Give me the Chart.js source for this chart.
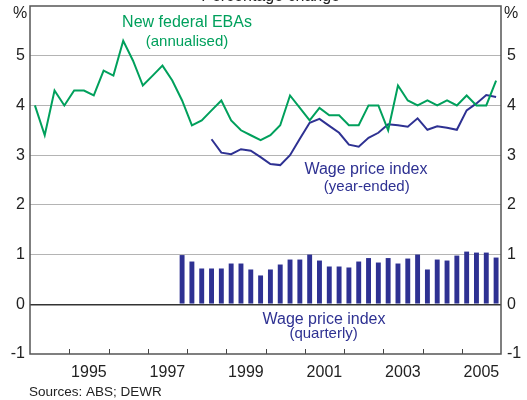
<!DOCTYPE html>
<html>
<head>
<meta charset="utf-8">
<script src="https://cdn.jsdelivr.net/npm/chart.js@4/dist/chart.umd.min.js"></script>
<style>
  html, body { margin: 0; padding: 0; background: #fff; }
</style>
</head>
<body>
<canvas id="wages" width="527" height="400"></canvas>
<script>
// quarterly series, first value belongs to the start quarter
const ebaStart = '1994 Q1'
const ebaValues = [
  4.0, 3.4, 4.3, 4.0,
  4.3, 4.3, 4.2, 4.7,
  4.6, 5.3, 4.9, 4.4,
  4.6, 4.8, 4.5, 4.1,
  3.6, 3.7, 3.9, 4.1,
  3.7, 3.5, 3.4, 3.3,
  3.4, 3.6, 4.2, 3.95,
  3.7, 3.95, 3.8, 3.8,
  3.6, 3.6, 4.0, 4.0,
  3.5, 4.4, 4.1, 4.0,
  4.1, 4.0, 4.1, 4.0,
  4.2, 4.0, 4.0, 4.5
]

const wpiYearStart = '1998 Q3'
const wpiYearValues = [
  3.32, 3.05,
  3.02, 3.12, 3.09, 2.96,
  2.82, 2.80, 3.00, 3.33,
  3.65, 3.73, 3.59, 3.45,
  3.21, 3.17, 3.35, 3.45,
  3.62, 3.60, 3.57, 3.74,
  3.51, 3.58, 3.55, 3.51,
  3.90, 4.04, 4.21, 4.17
]

const wpiQtrStart = '1997 Q4'
const wpiQtrValues = [
  0.99,
  0.86, 0.72, 0.72, 0.72,
  0.82, 0.82, 0.70, 0.58,
  0.70, 0.80, 0.90, 0.90,
  1.00, 0.88, 0.76, 0.76,
  0.74, 0.86, 0.93, 0.84,
  0.93, 0.82, 0.92, 1.00,
  0.70, 0.90, 0.88, 0.98,
  1.06, 1.04, 1.04, 0.94
]

const yearLabels = [1995, 1997, 1999, 2001, 2003, 2005]
const yearTicks = [1995, 1996, 1997, 1998, 1999, 2000, 2001, 2002, 2003, 2004, 2005]
const yTicks = [-1, 0, 1, 2, 3, 4, 5]

const green = '#00a05c'
const navy = '#2e3192'
const font = 'Arial, "Liberation Sans", sans-serif'

// mid point of a quarter, as decimal year
function quarterPoints(start, values){
  const year = parseInt(start)
  const q = parseInt(start.split('Q')[1])
  return values.map((v, i) => ({ x: year + (q - 1 + i) / 4 + 0.125, y: v }))
}

const noPad = s => { s.paddingTop = 0; s.paddingBottom = 0 }

const decor = {
  id: 'decor',
  afterDraw(chart){
    const ctx = chart.ctx
    const a = chart.chartArea
    const x = chart.scales.x
    const y = chart.scales.y
    ctx.save()

    // year tick marks, pointing into the plot
    ctx.strokeStyle = '#444'
    ctx.lineWidth = 1
    yearTicks.forEach(yr => {
      const px = Math.round(x.getPixelForValue(yr)) + 0.5
      ctx.beginPath()
      ctx.moveTo(px, a.bottom)
      ctx.lineTo(px, a.bottom - 5)
      ctx.stroke()
    })

    // frame
    ctx.strokeStyle = '#555'
    ctx.lineWidth = 1.5
    ctx.strokeRect(a.left, a.top, a.right - a.left, a.bottom - a.top)

    ctx.textAlign = 'center'
    ctx.textBaseline = 'middle'
    ctx.fillStyle = '#222'
    ctx.font = '16px ' + font
    ctx.fillText('%', a.left - 10, a.top + 8)
    ctx.fillText('%', a.right + 10, a.top + 8)

    ctx.fillStyle = green
    ctx.fillText('New federal EBAs', x.getPixelForValue(1998.0), y.getPixelForValue(5.67))
    ctx.font = '15px ' + font
    ctx.fillText('(annualised)', x.getPixelForValue(1998.0), y.getPixelForValue(5.28))

    ctx.fillStyle = navy
    ctx.font = '16px ' + font
    ctx.fillText('Wage price index', x.getPixelForValue(2002.56), y.getPixelForValue(2.7))
    ctx.font = '15px ' + font
    ctx.fillText('(year-ended)', x.getPixelForValue(2002.58), y.getPixelForValue(2.36))

    ctx.font = '16px ' + font
    ctx.fillText('Wage price index', x.getPixelForValue(2001.49), y.getPixelForValue(-0.3))
    ctx.font = '15px ' + font
    ctx.fillText('(quarterly)', x.getPixelForValue(2001.48), y.getPixelForValue(-0.6))

    // title, cut off at the top edge in the original
    ctx.fillStyle = '#222'
    ctx.font = '16px ' + font
    ctx.textBaseline = 'alphabetic'
    ctx.fillText('Percentage change', x.getPixelForValue(2000.13), 0.5)

    ctx.textAlign = 'left'
    ctx.font = '13.5px ' + font
    ctx.fillText('Sources: ABS; DEWR', a.left - 1, chart.height - 4)
    ctx.restore()
  }
}

new Chart(document.getElementById('wages'), {
  type: 'bar',
  data: {
    datasets: [
      {
        type: 'line',
        label: 'New federal EBAs',
        data: quarterPoints(ebaStart, ebaValues),
        borderColor: green,
        borderWidth: 2,
        pointRadius: 0,
        tension: 0,
        order: 1
      },
      {
        type: 'line',
        label: 'Wage price index (year-ended)',
        data: quarterPoints(wpiYearStart, wpiYearValues),
        borderColor: navy,
        borderWidth: 2,
        pointRadius: 0,
        tension: 0,
        order: 2
      },
      {
        type: 'bar',
        label: 'Wage price index (quarterly)',
        data: quarterPoints(wpiQtrStart, wpiQtrValues),
        backgroundColor: navy,
        barPercentage: 0.5,
        categoryPercentage: 1,
        order: 3
      }
    ]
  },
  options: {
    responsive: false,
    animation: false,
    devicePixelRatio: 1,
    layout: { padding: { top: 6, left: 0, right: 0, bottom: 0 } },
    plugins: { legend: { display: false }, tooltip: { enabled: false } },
    scales: {
      x: {
        type: 'linear',
        min: 1994,
        max: 2006,
        offset: false,
        afterBuildTicks: s => { s.ticks = yearLabels.map(v => ({ value: v + 0.5 })) },
        afterFit: s => { s.height = 46 },
        ticks: {
          autoSkip: false,
          maxRotation: 0,
          padding: 1,
          color: '#222',
          font: { family: font, size: 16 },
          callback: v => String(Math.floor(v))
        },
        grid: { display: false },
        border: { display: false }
      },
      y: {
        position: 'left',
        min: -1,
        max: 6,
        afterBuildTicks: s => { s.ticks = yTicks.map(v => ({ value: v })) },
        afterFit: s => { s.width = 30; noPad(s) },
        ticks: {
          padding: 5,
          color: '#222',
          font: { family: font, size: 16 }
        },
        grid: {
          drawTicks: false,
          color: c => c.tick.value === 0 ? '#333' : (c.tick.value === -1 ? 'rgba(0,0,0,0)' : '#b4b4b4'),
          lineWidth: c => c.tick.value === 0 ? 1.5 : 1
        },
        border: { display: false }
      },
      y2: {
        display: true,
        position: 'right',
        min: -1,
        max: 6,
        afterBuildTicks: s => { s.ticks = yTicks.map(v => ({ value: v })) },
        afterFit: s => { s.width = 26; noPad(s) },
        ticks: {
          padding: 6,
          color: '#222',
          font: { family: font, size: 16 }
        },
        grid: { display: false, drawTicks: false },
        border: { display: false }
      }
    }
  },
  plugins: [decor]
})
</script>
</body>
</html>
